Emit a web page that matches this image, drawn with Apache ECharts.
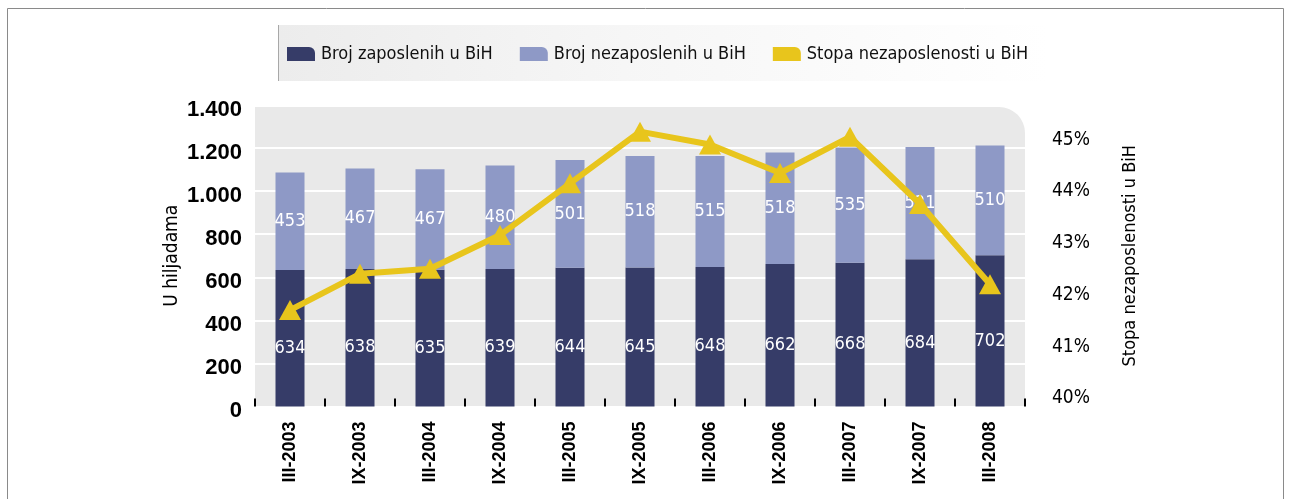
<!DOCTYPE html>
<html>
<head>
<meta charset="utf-8">
<script src="https://cdn.jsdelivr.net/npm/echarts@6/dist/echarts.min.js"></script>
<style>
  html, body { margin: 0; padding: 0; background: #fff; }
  #chart { width: 1291px; height: 499px; }
</style>
</head>
<body>
<div id="chart"></div>
<script>
// data
var periods = ['III-2003', 'IX-2003', 'III-2004', 'IX-2004', 'III-2005', 'IX-2005',
               'III-2006', 'IX-2006', 'III-2007', 'IX-2007', 'III-2008'];
var employed = [634, 638, 635, 639, 644, 645, 648, 662, 668, 684, 702];
var unemployed = [453, 467, 467, 480, 501, 518, 515, 518, 535, 521, 510];
var rate = [41.6, 42.3, 42.4, 43.05, 44.05, 45.05, 44.8, 44.25, 44.95, 43.65, 42.1];
var rateTicks = [40, 41, 42, 43, 44, 45];

var NARROW = '"DejaVu Sans Condensed", "Liberation Sans", sans-serif';
var SANS = '"Liberation Sans", Arial, sans-serif';
var legendIcon = 'path://M0 0h22a6 6 0 0 1 6 6v8H0z';

var chartDom = document.getElementById('chart');
var myChart = echarts.init(chartDom);
var option;

option = {
  animation: false,
  textStyle: { fontFamily: NARROW },
  grid: { left: 255, top: 105, width: 770, height: 301.5 },
  graphic: [
    // outer frame
    { type: 'rect', z: -20, silent: true,
      shape: { x: 7.5, y: 8.5, width: 1276, height: 520 },
      style: { fill: '#fff', stroke: '#8a8a8a', lineWidth: 1 } },
    // legend band
    { type: 'rect', z: -15, silent: true,
      shape: { x: 278, y: 25, width: 770, height: 56 },
      style: { fill: new echarts.graphic.LinearGradient(0, 0, 1, 0, [
        { offset: 0, color: '#ececec' }, { offset: 0.45, color: '#f6f6f6' }, { offset: 1, color: '#ffffff' }]) } },
    { type: 'line', z: -14, silent: true,
      shape: { x1: 278.5, y1: 25, x2: 278.5, y2: 81 },
      style: { stroke: '#a8a8a8', lineWidth: 1 } },
    // plot background with rounded top-right corner
    { type: 'rect', z: -10, silent: true,
      shape: { x: 255, y: 107, width: 770, height: 299.5, r: [0, 26, 0, 0] },
      style: { fill: '#e9e9e9' } }
  ],
  legend: {
    left: 287, top: 45, padding: 0,
    itemWidth: 28, itemHeight: 14, itemGap: 27,
    textStyle: { fontFamily: NARROW, fontSize: 18, color: '#111', padding: [0, 0, 0, 1] },
    data: [
      { name: 'Broj zaposlenih u BiH', icon: legendIcon },
      { name: 'Broj nezaposlenih u BiH', icon: legendIcon },
      { name: 'Stopa nezaposlenosti u BiH', icon: legendIcon }
    ]
  },
  xAxis: {
    type: 'category',
    data: periods,
    axisLine: { show: false },
    axisTick: { show: true, inside: true, length: 8, lineStyle: { color: '#000', width: 2 } },
    axisLabel: { rotate: 90, margin: 15, fontFamily: SANS, fontSize: 18, fontWeight: 'bold', color: '#000' },
    splitLine: { show: false }
  },
  yAxis: [
    {
      type: 'value', min: 0, max: 1400, interval: 200,
      name: 'U hiljadama', nameLocation: 'middle', nameRotate: 90, nameGap: 73, nameMoveOverlap: false,
      nameTextStyle: { fontFamily: NARROW, fontSize: 19, color: '#000' },
      axisLine: { show: false }, axisTick: { show: false },
      axisLabel: {
        margin: 13, fontFamily: SANS, fontSize: 22, fontWeight: 'bold', color: '#000',
        verticalAlign: 'top', lineHeight: 9,
        formatter: function (v) { return String(v).replace(/\B(?=(\d{3})+(?!\d))/g, '.'); }
      },
      splitLine: { show: true, lineStyle: { color: '#ffffff', width: 2 } }
    },
    {
      type: 'value', min: 39.735, max: 45.565,
      name: 'Stopa nezaposlenosti u BiH', nameLocation: 'middle', nameRotate: 90, nameGap: 96, nameMoveOverlap: false,
      nameTextStyle: { fontFamily: NARROW, fontSize: 18, color: '#000' },
      axisLine: { show: false }, axisTick: { show: false },
      axisLabel: {
        customValues: rateTicks, margin: 27, fontFamily: NARROW, fontSize: 19, color: '#000',
        verticalAlign: 'top', lineHeight: 11,
        formatter: function (v) { return Math.round(v) + '%'; }
      },
      splitLine: { show: false }
    }
  ],
  series: [
    {
      name: 'Broj zaposlenih u BiH', type: 'bar', stack: 'total', barWidth: 29,
      itemStyle: { color: '#363c68' },
      label: { show: true, position: 'inside', offset: [0, 10], color: '#fff', fontFamily: NARROW, fontSize: 18 },
      data: employed
    },
    {
      name: 'Broj nezaposlenih u BiH', type: 'bar', stack: 'total', barWidth: 29,
      itemStyle: { color: '#8e99c6' },
      label: { show: true, position: 'inside', color: '#fff', fontFamily: NARROW, fontSize: 18 },
      data: unemployed
    },
    {
      name: 'Stopa nezaposlenosti u BiH', type: 'line', yAxisIndex: 1, z: 5,
      symbol: 'triangle', symbolSize: [22, 20],
      lineStyle: { color: '#e8c51c', width: 6 },
      itemStyle: { color: '#e8c51c' },
      data: rate
    }
  ]
};

option && myChart.setOption(option);
</script>
</body>
</html>
